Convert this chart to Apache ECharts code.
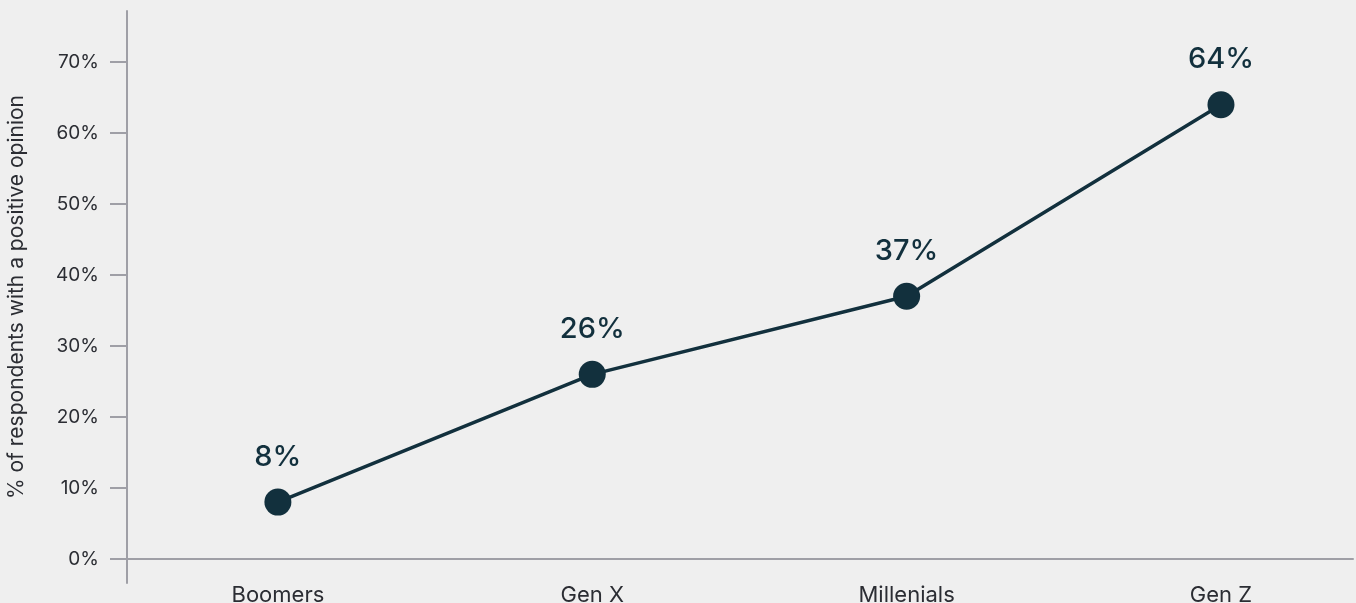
<!DOCTYPE html>
<html>
<head>
<meta charset="utf-8">
<title>Positive opinion by generation</title>
<script src="https://cdn.jsdelivr.net/npm/echarts@6/dist/echarts.min.js"></script>
<style>
  html, body { margin: 0; padding: 0; background: #efefef; overflow: hidden; }
  /* the canvas runs a little past the window's bottom edge so the category labels sit low */
  #chart { width: 1356px; height: 625px; }
</style>
</head>
<body>
<div id="chart"></div>
<script>
// Share of respondents with a positive opinion, by generation
const generations = ['Boomers', 'Gen X', 'Millenials', 'Gen Z'];
const positiveShare = [8, 26, 37, 64];
const yTickValues = [0, 10, 20, 30, 40, 50, 60, 70];

const ink = '#12303d';
const axisGrey = '#9f9fa6';
const textGrey = '#2b2d33';
const font = 'Inter, "Noto Sans", sans-serif';

const chart = echarts.init(document.getElementById('chart'), null, { renderer: 'canvas' });

chart.setOption({
  backgroundColor: '#efefef',
  animation: false,
  grid: {
    left: 127, right: 3, top: 11, bottom: 42,
    containLabel: false,
    outerBoundsMode: 'none'
  },
  xAxis: {
    type: 'value',
    min: -0.48,
    max: 3.42,
    splitLine: { show: false },
    axisTick: { show: false },
    axisLine: { show: true, onZero: true, lineStyle: { color: axisGrey, width: 2 } },
    axisLabel: {
      customValues: generations.map((_, i) => i),
      formatter: (v) => generations[v] || '',
      color: textGrey,
      fontFamily: font,
      fontSize: 22,
      margin: 1
    }
  },
  yAxis: {
    type: 'value',
    min: -3.4,
    max: 77.2,
    name: '% of respondents with a positive opinion',
    nameLocation: 'middle',
    nameGap: 100,
    nameTextStyle: { color: textGrey, fontFamily: font, fontSize: 21 },
    splitLine: { show: false },
    axisLine: { show: true, onZero: false, lineStyle: { color: axisGrey, width: 2 } },
    axisTick: {
      show: true,
      customValues: yTickValues,
      length: 17,
      lineStyle: { color: axisGrey, width: 2 }
    },
    axisLabel: {
      customValues: yTickValues,
      formatter: (v) => v + '%',
      color: textGrey,
      fontFamily: font,
      fontSize: 19,
      margin: 28
    }
  },
  series: [{
    type: 'line',
    data: positiveShare.map((v, i) => [i, v]),
    symbol: 'circle',
    symbolSize: 27,
    lineStyle: { color: ink, width: 3.5 },
    itemStyle: { color: ink },
    label: {
      show: true,
      position: 'top',
      distance: 17,
      formatter: (p) => p.value[1] + '%',
      color: ink,
      fontFamily: font,
      fontSize: 29,
      fontWeight: 500
    },
    emphasis: { disabled: true }
  }]
});
</script>
</body>
</html>
